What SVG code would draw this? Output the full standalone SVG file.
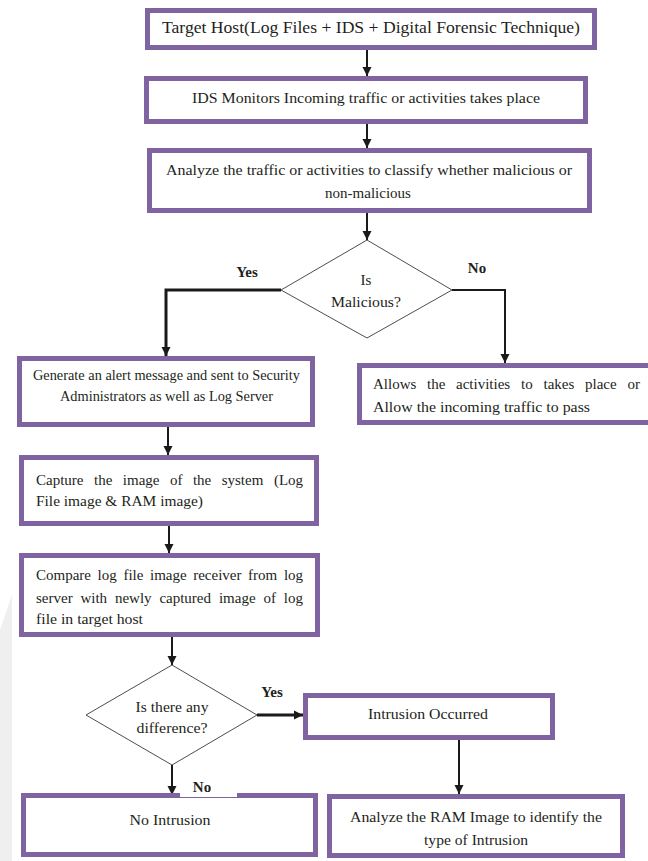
<svg xmlns="http://www.w3.org/2000/svg" width="648" height="861" viewBox="0 0 648 861">
<style>
.box{fill:#fff;stroke:#8064A2;stroke-width:5}
.dia{fill:#fff;stroke:#4d4d4d;stroke-width:1}
.t{font-family:"Liberation Serif","Times New Roman",serif;font-size:15px;fill:#231f20}
.c{text-anchor:middle}
.b{font-weight:bold}
.con{fill:none;stroke:#1a1a1a;stroke-width:2}
</style>
<defs>
<marker id="ah" markerUnits="userSpaceOnUse" markerWidth="10" markerHeight="10" refX="9" refY="5" orient="auto">
<path d="M0,0.5 L9,5 L0,9.5 Z" fill="#1a1a1a"/>
</marker>
</defs>
<rect width="648" height="861" fill="#fff"/>
<polygon points="0,630 12,595 12,861 0,861" fill="#efefef"/>

<g id="connectors">
<line class="con" x1="367" y1="50" x2="367" y2="76" marker-end="url(#ah)"/>
<line class="con" x1="367" y1="124" x2="367" y2="148" marker-end="url(#ah)"/>
<line class="con" x1="367" y1="213" x2="367" y2="240" marker-end="url(#ah)"/>
<path class="con" d="M281,290 H166 V356" style="stroke-width:3" marker-end="url(#ah)"/>
<path class="con" d="M452,290 H505 V363" marker-end="url(#ah)"/>
<line class="con" x1="168" y1="427" x2="168" y2="455" marker-end="url(#ah)"/>
<line class="con" x1="169" y1="526" x2="169" y2="553" marker-end="url(#ah)"/>
<line class="con" x1="172" y1="637" x2="172" y2="665" marker-end="url(#ah)"/>
<line class="con" x1="257" y1="715" x2="303" y2="715" style="stroke-width:3" marker-end="url(#ah)"/>
<line class="con" x1="459" y1="740" x2="459" y2="794" marker-end="url(#ah)"/>
<line class="con" x1="172" y1="765" x2="172" y2="795" marker-end="url(#ah)"/>
</g>

<g id="n1">
<rect class="box" x="147.5" y="10.5" width="447" height="37"/>
<text class="t c" x="371" y="33" textLength="418" lengthAdjust="spacingAndGlyphs" style="font-size:16px">Target Host(Log Files + IDS + Digital Forensic Technique)</text>
</g>
<g id="n2">
<rect class="box" x="146.5" y="78.5" width="439" height="43"/>
<text class="t c" x="366" y="103" textLength="348" lengthAdjust="spacingAndGlyphs">IDS Monitors Incoming traffic or activities takes place</text>
</g>
<g id="n3">
<rect class="box" x="149.5" y="150.5" width="440" height="60"/>
<text class="t c" x="369" y="175" textLength="406" lengthAdjust="spacingAndGlyphs">Analyze the traffic or activities to classify whether malicious or</text>
<text class="t c" x="368" y="198">non-malicious</text>
</g>
<g id="d1">
<polygon class="dia" points="367,240 452,290 367,338 281,290"/>
<text class="t c" x="366" y="285">Is</text>
<text class="t c" x="366" y="307" textLength="70" lengthAdjust="spacingAndGlyphs">Malicious?</text>
</g>
<text class="t c b" x="247" y="277">Yes</text>
<text class="t c b" x="477" y="273">No</text>
<g id="n4">
<rect class="box" x="19.5" y="358.5" width="293" height="66"/>
<text class="t" x="33" y="380" style="font-size:14px" textLength="267" lengthAdjust="spacingAndGlyphs">Generate an alert message and sent to Security</text>
<text class="t" x="60" y="401" style="font-size:14px" textLength="213" lengthAdjust="spacingAndGlyphs">Administrators as well as Log Server</text>
</g>
<g id="n5">
<rect class="box" x="359.5" y="365.5" width="300" height="57"/>
<text class="t" y="389"><tspan x="373">Allows</tspan><tspan x="427">the</tspan><tspan x="456">activities</tspan><tspan x="521">to</tspan><tspan x="543.5">takes</tspan><tspan x="585">place</tspan><tspan x="627.5">or</tspan></text>
<text class="t" x="373" y="412" textLength="217" lengthAdjust="spacingAndGlyphs">Allow the incoming traffic to pass</text>
</g>
<g id="n6">
<rect class="box" x="21.5" y="457.5" width="295" height="66"/>
<text class="t" y="485"><tspan x="36">Capture</tspan><tspan x="94">the</tspan><tspan x="122.8">image</tspan><tspan x="170">of</tspan><tspan x="192.9">the</tspan><tspan x="221.7">system</tspan><tspan x="273.9">(Log</tspan></text>
<text class="t" x="36" y="506" textLength="167" lengthAdjust="spacingAndGlyphs">File image &amp; RAM image)</text>
</g>
<g id="n7">
<rect class="box" x="21.5" y="555.5" width="296" height="79"/>
<text class="t" y="580"><tspan x="36">Compare</tspan><tspan x="97.6">log</tspan><tspan x="123.4">file</tspan><tspan x="150">image</tspan><tspan x="193.2">receiver</tspan><tspan x="248.1">from</tspan><tspan x="283.9">log</tspan></text>
<text class="t" y="603"><tspan x="36">server</tspan><tspan x="80.4">with</tspan><tspan x="114.9">newly</tspan><tspan x="159.4">captured</tspan><tspan x="218.9">image</tspan><tspan x="263.4">of</tspan><tspan x="283.8">log</tspan></text>
<text class="t" x="36" y="624" textLength="107" lengthAdjust="spacingAndGlyphs">file in target host</text>
</g>
<g id="d2">
<polygon class="dia" points="172,665 257,715 172,765 86,715"/>
<text class="t c" x="172" y="712" textLength="73" lengthAdjust="spacingAndGlyphs">Is there any</text>
<text class="t c" x="172" y="733" textLength="71" lengthAdjust="spacingAndGlyphs">difference?</text>
</g>
<text class="t c b" x="272" y="697">Yes</text>
<g id="n8">
<rect class="box" x="305.5" y="695.5" width="247" height="42"/>
<text class="t c" x="428" y="719" textLength="120" lengthAdjust="spacingAndGlyphs">Intrusion Occurred</text>
</g>
<g id="n9">
<rect class="box" x="329.5" y="796.5" width="293" height="59"/>
<text class="t c" x="476" y="822" textLength="252" lengthAdjust="spacingAndGlyphs">Analyze the RAM Image to identify the</text>
<text class="t c" x="476" y="845" textLength="104" lengthAdjust="spacingAndGlyphs">type of Intrusion</text>
</g>
<g id="n10">
<rect class="box" x="23.5" y="795.5" width="292" height="59"/>
<text class="t c" x="170" y="825" textLength="81" lengthAdjust="spacingAndGlyphs">No Intrusion</text>
</g>
<rect x="180" y="776" width="57" height="21" fill="#fff"/>
<text class="t c b" x="202" y="792">No</text>
</svg>
